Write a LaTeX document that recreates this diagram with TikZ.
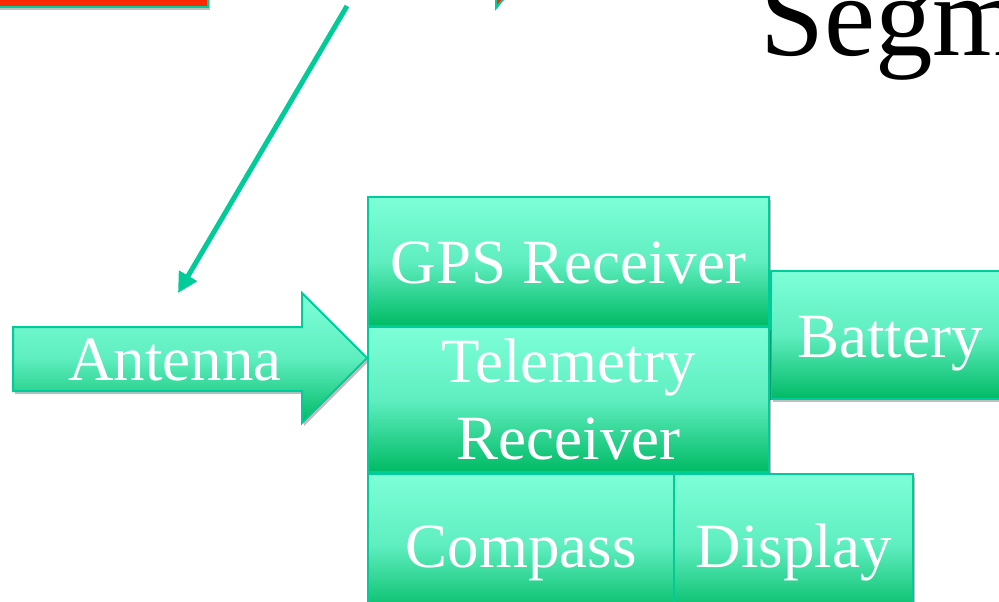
\documentclass[tikz,border=0pt]{standalone}
\usepackage{fontspec}
\setmainfont{Liberation Serif}
\usetikzlibrary{shadows,arrows.meta}
\definecolor{teal1}{RGB}{0,204,153}
\definecolor{gtop}{RGB}{125,255,215}
\definecolor{gmid}{RGB}{95,238,192}
\definecolor{gbot}{RGB}{0,186,100}
\definecolor{redf}{RGB}{255,40,0}
\tikzset{
  shad/.style={drop shadow={shadow xshift=2pt,shadow yshift=-3pt,opacity=0.25,fill=black}},
  blk0/.style={draw=teal1,line width=2pt,top color=gtop,bottom color=gbot,middle color=gmid,shad,
    text=white,font=\fontsize{63}{77}\selectfont,inner sep=0pt,align=center},
  blk/.style={blk0,text height=44pt,text depth=0pt},
  lbl/.style={text=white,font=\fontsize{63}{77}\selectfont,inner sep=0pt,anchor=base}
}
\begin{document}
\begin{tikzpicture}[x=1pt,y=-1pt]
\useasboundingbox (0,0) rectangle (999,602);
\clip (0,0) rectangle (999,602);
% top red box
\fill[redf,draw=teal1,line width=2.5pt,shad] (-10,-30) rectangle (208,7);
% top triangle tip
\fill[redf,draw=teal1,line width=2pt] (496,-4) -- (496,8) -- (506,-4) -- cycle;
% title
\node[anchor=base west,inner sep=0pt,font=\fontsize{115}{120}\selectfont] (title) at (760,56) {Segm};
% connector
\coordinate (s) at (347,6);
\coordinate (e) at (178,293);
\draw[teal1,line width=5pt,-{Triangle[length=20pt,width=20pt]},
  drop shadow={shadow xshift=1pt,shadow yshift=-2pt,opacity=0.2,fill=black}] (s) -- (e);
% antenna arrow
\path[draw=teal1,line width=2pt,top color=gtop,bottom color=gbot,middle color=gmid,shad]
  (13,327) -- (302,327) -- (302,293) -- (367,358) -- (302,423) -- (302,391) -- (13,391) -- cycle;
\node[lbl] (ant) at (175,380) {Antenna};
% boxes
\node[blk,minimum width=401pt,minimum height=129pt] (gps) at (568.5,261.5) {GPS Receiver};
\node[blk,minimum width=238pt,minimum height=128pt] (bat) at (890,335) {Battery};
\node[blk0,minimum width=401pt,minimum height=145pt] (tel) at (568.5,399.5) {Telemetry\\Receiver};
\node[blk,minimum width=306pt,minimum height=142pt] (com) at (521,545) {Compass};
\node[blk,minimum width=239pt,minimum height=142pt] (dis) at (793.5,545) {Display};
\end{tikzpicture}
\end{document}
